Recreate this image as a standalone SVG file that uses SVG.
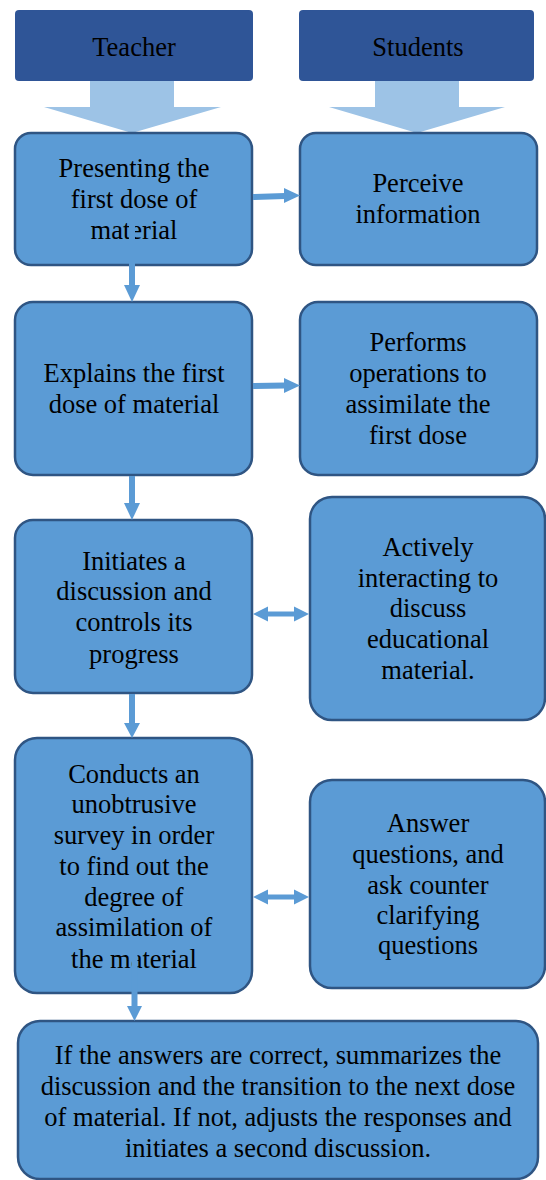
<svg xmlns="http://www.w3.org/2000/svg" width="546" height="1180" viewBox="0 0 546 1180">
<style>
.hdr{fill:#2f5597}
.blk{fill:#9dc3e6}
.box{fill:#5b9bd5;stroke:#2f5583;stroke-width:2.5}
text{font-family:"Liberation Serif","Times New Roman",serif;font-size:26.5px;fill:#000;text-anchor:middle}
.c{stroke:#5b9bd5;stroke-width:6;fill:none}
.ah{fill:#5b9bd5}
</style>
<rect width="546" height="1180" fill="#fff"/>
<g id="teacher-header">
<rect class="hdr" x="15" y="10" width="238" height="71" rx="4"/>
<text x="134" y="56">Teacher</text>
<polygon class="blk" points="90,81 174,81 174,107 221,107 132,133 44,107 90,107"/>
</g>
<g id="students-header">
<rect class="hdr" x="299" y="10" width="235" height="71" rx="4"/>
<text x="418" y="56">Students</text>
<polygon class="blk" points="375,81 459,81 459,107 505,107 417,133 329,107 375,107"/>
</g>
<g id="t1">
<rect class="box" x="15" y="133" width="237" height="132" rx="16"/>
<text x="134" y="177">Presenting the</text>
<text x="134" y="208">first dose of</text>
<text x="134" y="239">material</text>
</g>
<g id="s1">
<rect class="box" x="300" y="133" width="237" height="132" rx="16"/>
<text x="418" y="192">Perceive</text>
<text x="418" y="223">information</text>
</g>
<g id="t2">
<rect class="box" x="15" y="302" width="237" height="173" rx="18"/>
<text x="134" y="382">Explains the first</text>
<text x="134" y="413">dose of material</text>
</g>
<g id="s2">
<rect class="box" x="300" y="302" width="237" height="173" rx="18"/>
<text x="418" y="351">Performs</text>
<text x="418" y="382">operations to</text>
<text x="418" y="413">assimilate the</text>
<text x="418" y="444">first dose</text>
</g>
<g id="t3">
<rect class="box" x="15" y="520" width="237" height="173" rx="18"/>
<text x="134" y="570">Initiates a</text>
<text x="134" y="600">discussion and</text>
<text x="134" y="631">controls its</text>
<text x="134" y="663">progress</text>
</g>
<g id="s3">
<rect class="box" x="310" y="497" width="235" height="223" rx="22"/>
<text x="428" y="556">Actively</text>
<text x="428" y="587">interacting to</text>
<text x="428" y="617">discuss</text>
<text x="428" y="648">educational</text>
<text x="428" y="679">material.</text>
</g>
<g id="t4">
<rect class="box" x="15" y="738" width="237" height="255" rx="22"/>
<text x="134" y="783">Conducts an</text>
<text x="134" y="813">unobtrusive</text>
<text x="134" y="844">survey in order</text>
<text x="134" y="875">to find out the</text>
<text x="134" y="906">degree of</text>
<text x="134" y="936">assimilation of</text>
<text x="134" y="968">the material</text>
</g>
<g id="s4">
<rect class="box" x="310" y="780" width="235" height="208" rx="22"/>
<text x="428" y="832">Answer</text>
<text x="428" y="863">questions, and</text>
<text x="428" y="894">ask counter</text>
<text x="428" y="924">clarifying</text>
<text x="428" y="954">questions</text>
</g>
<g id="t5">
<rect class="box" x="18" y="1021" width="520" height="158" rx="22"/>
<text x="278" y="1064">If the answers are correct, summarizes the</text>
<text x="278" y="1095">discussion and the transition to the next dose</text>
<text x="278" y="1126">of material. If not, adjusts the responses and</text>
<text x="278" y="1157">initiates a second discussion.</text>
</g>
<g id="connectors">
<line class="c" x1="132" y1="224" x2="132" y2="286"/>
<polygon class="ah" points="124,285 140,285 132,302"/>
<line class="c" x1="132" y1="476" x2="132" y2="504"/>
<polygon class="ah" points="124,503 140,503 132,520"/>
<line class="c" x1="132" y1="694" x2="132" y2="724"/>
<polygon class="ah" points="124,723 140,723 132,738"/>
<line class="c" x1="134.5" y1="950" x2="134.5" y2="1007"/>
<polygon class="ah" points="127,1006 142,1006 134.5,1021"/>
<line class="c" x1="253" y1="197" x2="285" y2="196"/>
<polygon class="ah" points="284,188 284,203 300,195.5"/>
<line class="c" x1="253" y1="386" x2="285" y2="385.5"/>
<polygon class="ah" points="284,378 284,393 300,385.5"/>
<line class="c" x1="266" y1="614" x2="296" y2="614" style="stroke-width:5"/>
<polygon class="ah" points="253,614 268,606.5 268,621.5"/>
<polygon class="ah" points="309,614 294,606.5 294,621.5"/>
<line class="c" x1="266" y1="897" x2="296" y2="897" style="stroke-width:5"/>
<polygon class="ah" points="253,897 268,889.5 268,904.5"/>
<polygon class="ah" points="309,897 294,889.5 294,904.5"/>
</g>
</svg>
